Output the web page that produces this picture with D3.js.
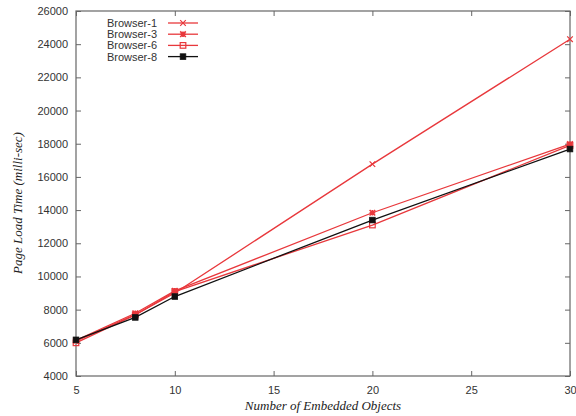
<!DOCTYPE html>
<html><head><meta charset="utf-8">
<script src="https://cdn.jsdelivr.net/npm/d3@7"></script>
<style>body{margin:0;background:#fff}</style>
</head><body>
<svg id="c" width="576" height="416"></svg>
<script>
const xValues = [5, 8, 10, 20, 30];
const browser1 = [6100, 7700, 9000, 16770, 24300];
const browser3 = [6150, 7780, 9130, 13840, 17980];
const browser6 = [6000, 7680, 9080, 13100, 17900];
const browser8 = [6180, 7530, 8790, 13400, 17680];
const seriesNames = ["Browser-1", "Browser-3", "Browser-6", "Browser-8"];
const xTicks = [5, 10, 15, 20, 25, 30];
const yTicks = [4000, 6000, 8000, 10000, 12000, 14000, 16000, 18000, 20000, 22000, 24000, 26000];

const series = [
  {name: seriesNames[0], values: browser1, color: "#e8383c", marker: "x"},
  {name: seriesNames[1], values: browser3, color: "#e8383c", marker: "star"},
  {name: seriesNames[2], values: browser6, color: "#e8383c", marker: "osq"},
  {name: seriesNames[3], values: browser8, color: "#111", marker: "fsq"}
];

const svg = d3.select("#c");
const L = 76, R = 570, T = 11, B = 376;
const x = d3.scaleLinear().domain([5, 30]).range([L, R]);
const y = d3.scaleLinear().domain([4000, 26000]).range([B, T]);
const axisColor = "#666";
const tickFont = "Liberation Sans, Arial, sans-serif";

svg.append("rect").attr("x", L).attr("y", T).attr("width", R - L).attr("height", B - T)
  .attr("fill", "none").attr("stroke", axisColor).attr("stroke-width", 1.2);

const xb = svg.append("g").attr("transform", `translate(0,${B})`)
  .call(d3.axisBottom(x).tickValues(xTicks).tickSize(-5).tickPadding(10).tickFormat(d3.format("d")));
const xt = svg.append("g").attr("transform", `translate(0,${T})`)
  .call(d3.axisTop(x).tickValues(xTicks).tickSize(-5).tickFormat(""));
const yl = svg.append("g").attr("transform", `translate(${L},0)`)
  .call(d3.axisLeft(y).tickValues(yTicks).tickSize(-5).tickPadding(8).tickFormat(d3.format("d")));
const yr = svg.append("g").attr("transform", `translate(${R},0)`)
  .call(d3.axisRight(y).tickValues(yTicks).tickSize(-5).tickFormat(""));
[xb, xt, yl, yr].forEach(g => {
  g.select(".domain").remove();
  g.selectAll(".tick line").attr("stroke", axisColor);
  g.selectAll("text").attr("font-family", tickFont).attr("font-size", 11).attr("fill", "#333");
});

svg.append("text").attr("x", (L + R) / 2).attr("y", 410).attr("text-anchor", "middle")
  .attr("font-family", "Liberation Serif, Times New Roman, serif").attr("font-style", "italic")
  .attr("font-size", 13).attr("fill", "#222").text("Number of Embedded Objects");
svg.append("text").attr("transform", `translate(22,203) rotate(-90)`).attr("text-anchor", "middle")
  .attr("font-family", "Liberation Serif, Times New Roman, serif").attr("font-style", "italic")
  .attr("font-size", 13).attr("fill", "#222").text("Page Load Time (milli-sec)");

function drawMarker(g, type, cx, cy, color) {
  const s = 2.8;
  if (type === "x") {
    g.append("path").attr("d", `M${cx-s},${cy-s}L${cx+s},${cy+s}M${cx-s},${cy+s}L${cx+s},${cy-s}`)
      .attr("stroke", color).attr("stroke-width", 1.2).attr("fill", "none");
  } else if (type === "star") {
    g.append("path").attr("d", `M${cx-s},${cy-s}L${cx+s},${cy+s}M${cx-s},${cy+s}L${cx+s},${cy-s}M${cx-s},${cy}L${cx+s},${cy}M${cx},${cy-s}L${cx},${cy+s}`)
      .attr("stroke", color).attr("stroke-width", 1.6).attr("fill", "none");
  } else if (type === "osq") {
    g.append("rect").attr("x", cx - s).attr("y", cy - s).attr("width", 2 * s).attr("height", 2 * s)
      .attr("fill", "none").attr("stroke", color).attr("stroke-width", 1.2);
  } else {
    g.append("rect").attr("x", cx - s).attr("y", cy - s).attr("width", 2 * s).attr("height", 2 * s)
      .attr("fill", color).attr("stroke", color).attr("stroke-width", 0.8);
  }
}

const line = d3.line().x(d => x(d[0])).y(d => y(d[1]));
series.forEach(sr => {
  const pts = xValues.map((v, i) => [v, sr.values[i]]);
  const g = svg.append("g");
  g.append("path").datum(pts).attr("d", line).attr("fill", "none")
    .attr("stroke", sr.color).attr("stroke-width", 1.3);
  pts.forEach(p => drawMarker(g, sr.marker, x(p[0]), y(p[1]), sr.color));
});

const lg = svg.append("g");
series.forEach((sr, i) => {
  const yy = 23 + i * 11.2;
  lg.append("text").attr("x", 157).attr("y", yy + 4).attr("text-anchor", "end")
    .attr("font-family", tickFont).attr("font-size", 11).attr("fill", "#333").text(sr.name);
  lg.append("line").attr("x1", 168).attr("x2", 198).attr("y1", yy).attr("y2", yy)
    .attr("stroke", sr.color).attr("stroke-width", 1.3);
  drawMarker(lg, sr.marker, 183, yy, sr.color);
});
</script>
</body></html>
